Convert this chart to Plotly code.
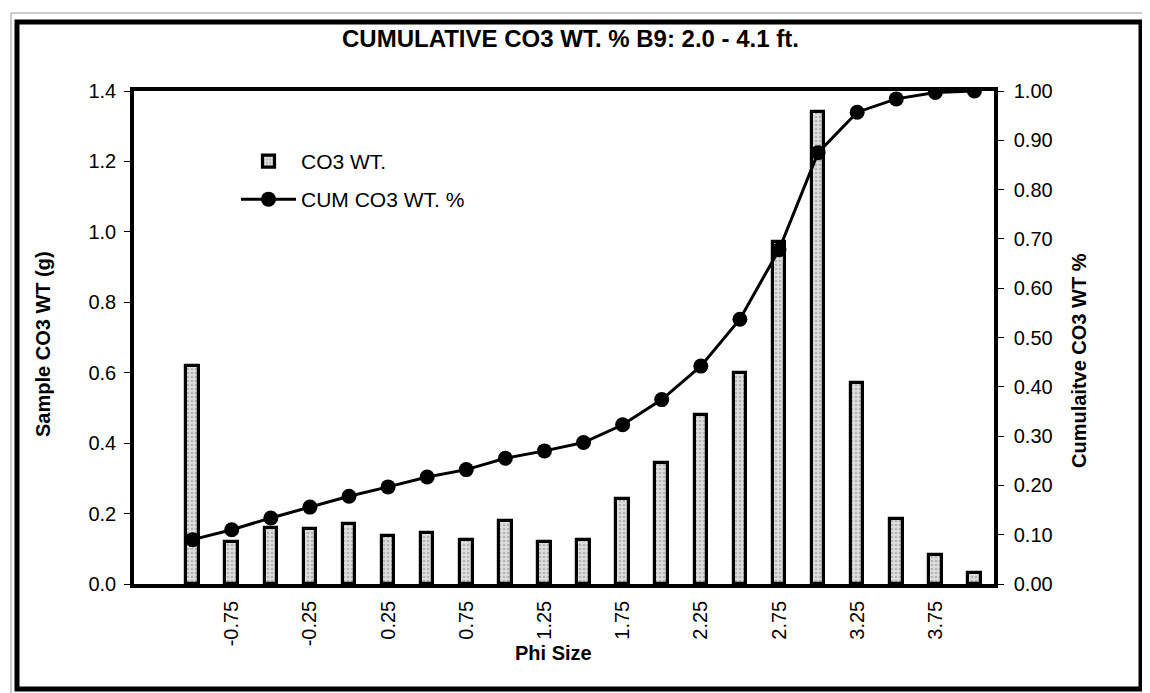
import plotly.graph_objects as go

# ---- data ----
phi = [-1.00, -0.75, -0.50, -0.25, 0.00, 0.25, 0.50, 0.75, 1.00, 1.25, 1.50,
       1.75, 2.00, 2.25, 2.50, 2.75, 3.00, 3.25, 3.50, 3.75, 4.00]
co3_wt = [0.62, 0.118, 0.160, 0.155, 0.171, 0.136, 0.146, 0.126, 0.180, 0.120, 0.124,
          0.240, 0.345, 0.480, 0.600, 0.970, 1.340, 0.570, 0.185, 0.083, 0.030]
cum_co3_pct = [0.090, 0.110, 0.134, 0.156, 0.178, 0.197, 0.217, 0.232, 0.255, 0.270, 0.287,
               0.323, 0.374, 0.442, 0.537, 0.678, 0.875, 0.957, 0.984, 0.997, 1.000]
x_tick_labels = ["-0.75", "-0.25", "0.25", "0.75", "1.25", "1.75", "2.25", "2.75", "3.25", "3.75"]
left_ticks = [0.0, 0.2, 0.4, 0.6, 0.8, 1.0, 1.2, 1.4]
right_ticks = [0.0, 0.1, 0.2, 0.3, 0.4, 0.5, 0.6, 0.7, 0.8, 0.9, 1.0]

# ---- layout geometry (pixels) ----
W, H = 1150, 693
L, R, T, B = 126, 986, 83, 576
FONT = "Liberation Sans, Arial, sans-serif"

def px(x):
    return (x - L) / (R - L)

def py(y):
    return (B - y) / (B - T)

step = phi[1] - phi[0]
x_range = [phi[0] - 1.5 * step, phi[-1] + 0.5 * step]   # one empty slot before first class
boundaries = [x_range[0] + step * k for k in range(len(phi) + 2)]

fig = go.Figure()
fig.add_trace(go.Bar(
    x=phi, y=co3_wt, name="CO3 WT.", width=step * 0.32,
    marker=dict(color="#d2d2d2", line=dict(color="black", width=3.2),
                pattern=dict(shape=".", fgcolor="#8a8a8a", bgcolor="#dedede", size=4, solidity=0.35)),
    legend="legend",
))
fig.add_trace(go.Scatter(
    x=phi, y=cum_co3_pct, name="CUM CO3 WT. %", yaxis="y2", mode="lines+markers",
    line=dict(color="black", width=3),
    marker=dict(color="black", size=15, symbol="circle"),
    legend="legend2",
))

axis_common = dict(showgrid=False, zeroline=False, color="black")
fig.update_layout(
    width=W, height=H,
    margin=dict(l=L, r=W - R, t=T, b=H - B),
    paper_bgcolor="white", plot_bgcolor="white",
    font=dict(family=FONT, size=20, color="black"),
    bargap=0,
    xaxis=dict(range=x_range, tickvals=[float(t) for t in x_tick_labels], ticktext=x_tick_labels,
               tickangle=-90, ticks="", showline=True, linecolor="black", linewidth=3.5, mirror=True,
               ticklabelstandoff=5, tickfont=dict(size=20), **axis_common),
    xaxis3=dict(range=x_range, overlaying="x", anchor="y", side="bottom", tickvals=boundaries,
                ticks="outside", ticklen=6, tickwidth=1, tickcolor="black", showticklabels=False,
                showline=False, **axis_common),
    xaxis4=dict(range=x_range, overlaying="x", anchor="y", side="bottom", tickvals=boundaries,
                ticks="inside", ticklen=5, tickwidth=1, tickcolor="black", showticklabels=False,
                showline=False, **axis_common),
    yaxis=dict(range=[0, 1.4], tickvals=left_ticks, tickformat=".1f", ticks="outside", ticklen=6,
               tickwidth=1, tickcolor="black", showline=True, linecolor="black", linewidth=3.5,
               ticklabelstandoff=4, tickfont=dict(size=20), **axis_common),
    yaxis3=dict(range=[0, 1.4], overlaying="y", anchor="x", side="left", tickvals=left_ticks,
                ticks="inside", ticklen=5, tickwidth=1, tickcolor="black", showticklabels=False,
                showline=False, **axis_common),
    yaxis2=dict(range=[0, 1.0], overlaying="y", anchor="x", side="right", tickvals=right_ticks,
                tickformat=".2f", ticks="outside", ticklen=6, tickwidth=1, tickcolor="black",
                showline=True, linecolor="black", linewidth=3.5, ticklabelstandoff=6,
                tickfont=dict(size=20), **axis_common),
    yaxis4=dict(range=[0, 1.0], overlaying="y", anchor="x", side="right", tickvals=right_ticks,
                ticks="inside", ticklen=5, tickwidth=1, tickcolor="black", showticklabels=False,
                showline=False, **axis_common),
    legend=dict(x=px(228), y=py(133), xanchor="left", yanchor="top", bgcolor="rgba(0,0,0,0)",
                borderwidth=0, font=dict(size=21), itemwidth=55),
    legend2=dict(x=px(228), y=py(171), xanchor="left", yanchor="top", bgcolor="rgba(0,0,0,0)",
                 borderwidth=0, font=dict(size=21), itemwidth=55),
    showlegend=True,
)

# title and axis titles
fig.add_annotation(text="<b>CUMULATIVE CO3 WT. % B9: 2.0 - 4.1 ft.</b>", x=px(562), y=py(31),
                   xref="paper", yref="paper", showarrow=False, font=dict(size=24),
                   xanchor="center", yanchor="middle")
fig.add_annotation(text="<b>Sample CO3 WT (g)</b>", x=px(35), y=py(336), xref="paper", yref="paper",
                   showarrow=False, textangle=-90, font=dict(size=20), xanchor="center", yanchor="middle")
fig.add_annotation(text="<b>Cumulaitve CO3 WT %</b>", x=px(1071), y=py(353), xref="paper", yref="paper",
                   showarrow=False, textangle=-90, font=dict(size=20), xanchor="center", yanchor="middle")
fig.add_annotation(text="<b>Phi Size</b>", x=px(545), y=py(645), xref="paper", yref="paper",
                   showarrow=False, font=dict(size=20), xanchor="center", yanchor="middle")

# outer frame (chart border) and faint page edge
fig.add_shape(type="rect", xref="paper", yref="paper", x0=px(9), x1=px(1133), y0=py(681), y1=py(14),
              line=dict(color="black", width=5), layer="above")
fig.add_shape(type="rect", xref="paper", yref="paper", x0=px(3), x1=px(1142), y0=py(689), y1=py(5),
              line=dict(color="#9a9a9a", width=1), layer="above")

fig.write_html("out.html")
